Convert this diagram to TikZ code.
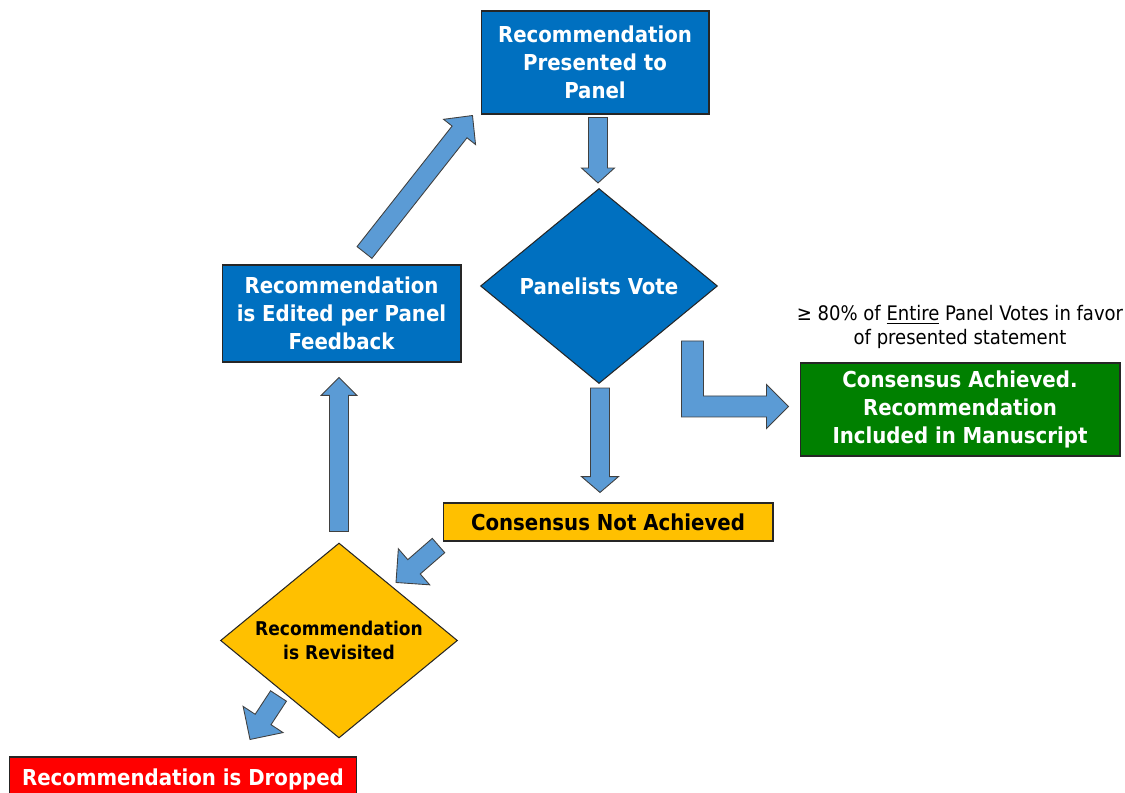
\documentclass[tikz,border=0pt]{standalone}
\usepackage{fontspec}
\setmainfont{DejaVu Sans Condensed}
\usetikzlibrary{shapes.geometric,calc}
\definecolor{boxblue}{HTML}{0070C0}
\definecolor{arrowblue}{HTML}{5B9BD5}
\definecolor{boxgold}{HTML}{FFC000}
\definecolor{boxgreen}{HTML}{008000}
\definecolor{boxred}{HTML}{FF0000}

% block arrow: #1 tail, #2 tip, #3 half head width, #4 head length
\newcommand{\blockarrow}[4]{%
  \draw[blockarr] let \p1=(#1), \p2=(#2), \n1={atan2(\y2-\y1,\x2-\x1)} in
    ($(\p1)+(\n1+90:5.4pt)$) -- ($(\p2)+(\n1+180:#4)+(\n1+90:5.4pt)$)
    -- ($(\p2)+(\n1+180:#4)+(\n1+90:#3)$) -- (\p2)
    -- ($(\p2)+(\n1+180:#4)+(\n1-90:#3)$)
    -- ($(\p2)+(\n1+180:#4)+(\n1-90:5.4pt)$)
    -- ($(\p1)+(\n1-90:5.4pt)$) -- cycle;}

\begin{document}
\begin{tikzpicture}[x=0.02cm,y=-0.02cm,
  box/.style={draw=black!85,line width=0.6pt,inner sep=0,align=center,
    font=\bfseries\fontsize{12.5}{16}\selectfont},
  bluebox/.style={box,fill=boxblue,text=white},
  votediamond/.style={box,diamond,aspect=1.22,minimum width=4.74cm,minimum height=3.9cm},
  blockarr/.style={fill=arrowblue,draw=black!75,line width=0.5pt,line join=miter}]
	\useasboundingbox (0,0) rectangle (1125,793);
	\node[bluebox,minimum width=4.56cm,minimum height=2.06cm] (pres) at (595,62.5) {Recommendation\\Presented to\\Panel};
	\node[votediamond,fill=boxblue,text=white] (vote) at (599,286) {Panelists Vote};
	\node[bluebox,minimum width=4.78cm,minimum height=1.94cm] (edit) at (341.5,313.5) {Recommendation\\is Edited per Panel\\Feedback};
	\node[box,fill=boxgreen,text=white,minimum width=6.4cm,minimum height=1.86cm] (achieved) at (960,409.5) {Consensus Achieved.\\Recommendation\\Included in Manuscript};
	\node[align=center,font=\fontsize{11.4}{14}\selectfont] (cond) at (960,327) {≥ 80\% of \underline{Entire} Panel Votes in favor\\of presented statement};
	\node[box,fill=boxgold,minimum width=6.6cm,minimum height=0.76cm] (notach) at (608,522) {Consensus Not Achieved};
	\node[votediamond,fill=boxgold,font=\bfseries\fontsize{10.8}{14}\selectfont] (revis) at (339,640.5) {Recommendation\\is Revisited};
	\node[box,fill=boxred,text=white,minimum width=6.96cm,minimum height=0.88cm] (dropped) at (183,779) {Recommendation is Dropped};

	\blockarrow{$(pres.south)+(3,3)$}{$(vote.north)+(-1,-5)$}{9.35pt}{8.5pt}
	\blockarrow{$(vote.south)+(1,4)$}{$(vote.south |- notach.north)+(1,-10)$}{10.5pt}{9pt}
	\blockarrow{$(revis.north)+(0,-11)$}{$(edit.south)+(-2.5,15)$}{10.2pt}{10.2pt}
	\blockarrow{$(edit.north)+(23,-12)$}{$(pres.south west)+(-8,1)$}{11.6pt}{11.9pt}
	\blockarrow{$(notach.south west)+(-4,4)$}{$(revis.north)+(57,40)$}{13.6pt}{13.6pt}
	\blockarrow{$(revis.west)+(58.5,55.5)$}{$(dropped.north)+(67,-17)$}{13.6pt}{13.6pt}

	\coordinate (el) at ($(vote.east)+(-25.5,55)$);
	\coordinate (eltip) at ($(achieved.west)+(-11,-3)$);
	\draw[blockarr] ($(el)+(-11,0)$) -- ($(el)+(11,0)$) -- ($(el |- eltip)+(11,-10.5)$)
		-- ($(eltip)+(-22,-10.5)$) -- ($(eltip)+(-22,-22)$) -- (eltip)
		-- ($(eltip)+(-22,22)$) -- ($(eltip)+(-22,10.5)$) -- ($(el |- eltip)+(-11,10.5)$) -- cycle;
\end{tikzpicture}
\end{document}
